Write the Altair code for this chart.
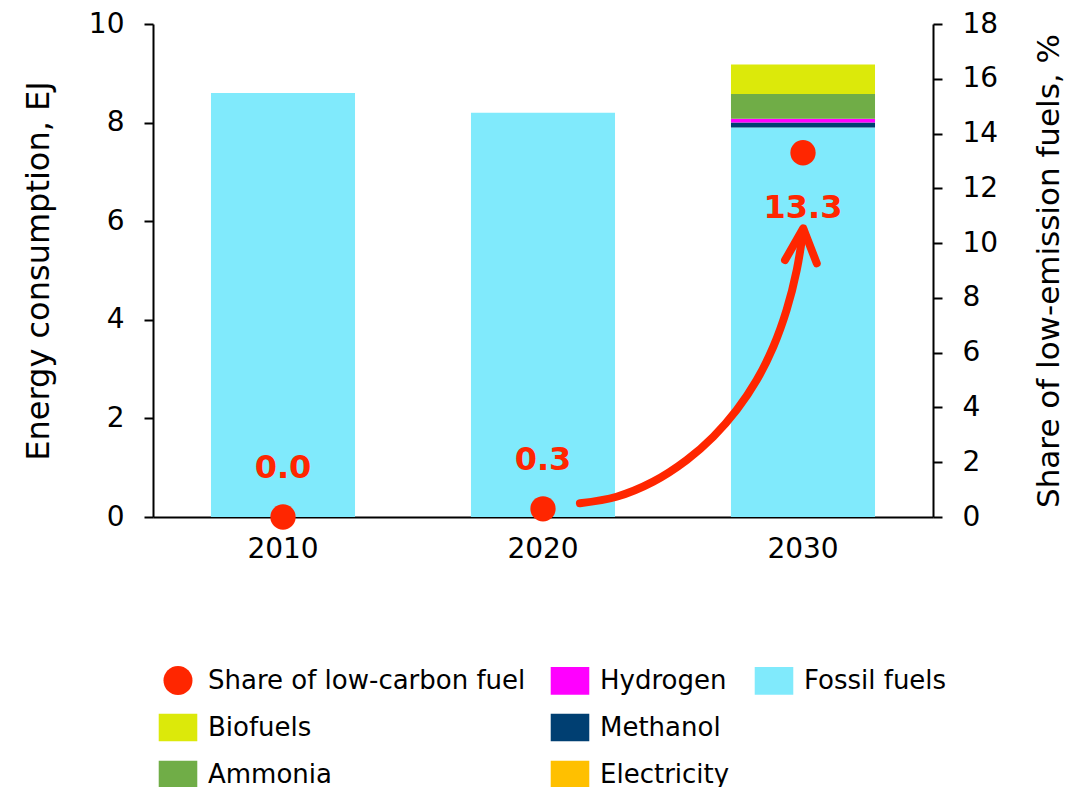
import altair as alt
import pandas as pd

# ---- data ----
years = ["2010", "2020", "2030"]
fossil = [8.6, 8.2, 7.9]
electricity = [0.0, 0.0, 0.0]
methanol = [0.0, 0.0, 0.1]
hydrogen = [0.0, 0.0, 0.08]
ammonia = [0.0, 0.0, 0.5]
biofuels = [0.0, 0.0, 0.6]
share = [0.0, 0.3, 13.3]

# annotation arrow
# (x in category-band units, 2010 centre = 0.5; y in % of the right axis)
arrow_x = [1.642, 1.783, 1.924, 2.053, 2.155, 2.245, 2.322, 2.386, 2.437, 2.476, 2.501]
arrow_y = [0.50, 0.74, 1.29, 2.08, 2.93, 3.91, 5.00, 6.22, 7.56, 9.02, 10.48]
head_x = [2.431, 2.501, 2.553]
head_y = [9.38, 10.54, 9.26]

stack_order = ["Fossil fuels", "Electricity", "Methanol", "Hydrogen", "Ammonia", "Biofuels"]
stack_vals = [fossil, electricity, methanol, hydrogen, ammonia, biofuels]

SHARE = "Share of low-carbon fuel"
legend_domain = [SHARE, "Biofuels", "Ammonia", "Hydrogen", "Methanol", "Electricity",
                 "Fossil fuels", " "]
legend_colors = ["#ff2600", "#dce90a", "#70ad47", "#ff00ff", "#003f72", "#ffc000",
                 "#80eafc", "rgba(0,0,0,0)"]
RECT = "M-1.33,-0.95H1.33V0.95H-1.33Z"
legend_shapes = ["circle", RECT, RECT, RECT, RECT, RECT, RECT, RECT]

FONT = "DejaVu Sans"

bars_df = pd.DataFrame(
    [{"Year": y, "Series": f, "Value": vals[i], "rank": k}
     for k, (f, vals) in enumerate(zip(stack_order, stack_vals))
     for i, y in enumerate(years)]
)
share_df = pd.DataFrame({"Year": years, "Share": share, "Series": [SHARE] * 3})
arrow_df = pd.DataFrame({"ax": arrow_x, "ay": arrow_y})
head_df = pd.DataFrame({"ax": head_x, "ay": head_y})

color_scale = alt.Scale(domain=legend_domain, range=legend_colors)
shape_scale = alt.Scale(domain=legend_domain, range=legend_shapes)
xband = alt.Scale(domain=years, paddingInner=0, paddingOuter=0)
yshare = alt.Scale(domain=[0, 18], nice=False)

legend = alt.Legend(
    title=None, orient="none", legendX=10.5, legendY=642, columns=3,
    symbolSize=841, symbolOpacity=1, labelFontSize=26, labelColor="black",
    labelFont=FONT, rowPadding=18, columnPadding=25, labelOffset=15.5,
    labelLimit=400, symbolStrokeWidth=0)

bars = alt.Chart(bars_df).mark_bar(width={"band": 0.554}).encode(
    x=alt.X("Year:N", scale=xband,
            axis=alt.Axis(title=None, labelAngle=0, ticks=False, domainColor="black",
                          domainWidth=2, labelFontSize=28, labelPadding=18,
                          labelColor="black", grid=False)),
    y=alt.Y("Value:Q", stack="zero",
            scale=alt.Scale(domain=[0, 10], nice=False),
            axis=alt.Axis(orient="left", title="Energy consumption, EJ", values=[0, 2, 4, 6, 8, 10],
                          grid=False, domainColor="black", domainWidth=2, tickColor="black",
                          tickWidth=2, tickSize=9, labelFontSize=28, labelPadding=20,
                          labelColor="black", titleFontSize=32, titleFontWeight="normal",
                          titleColor="black", titlePadding=33)),
    color=alt.Color("Series:N", scale=color_scale, legend=legend),
    order=alt.Order("rank:Q", sort="ascending"),
)

dots = alt.Chart(share_df).mark_point(size=640, opacity=1, filled=True).encode(
    x=alt.X("Year:N", scale=xband, axis=None),
    y=alt.Y("Share:Q", scale=yshare,
            axis=alt.Axis(orient="right", title="Share of low-emission fuels, %",
                          values=list(range(0, 19, 2)), grid=False, domainColor="black",
                          domainWidth=2, tickColor="black", tickWidth=2, tickSize=9,
                          labelFontSize=28, labelPadding=20, labelColor="black",
                          titleFontSize=31, titleFontWeight="normal", titleColor="black",
                          titleAngle=270, titleBaseline="top", titlePadding=37)),
    color=alt.Color("Series:N", scale=color_scale, legend=legend),
    shape=alt.Shape("Series:N", scale=shape_scale, legend=legend),
)

lab_above = alt.Chart(share_df).transform_filter(alt.datum.Year != "2030").mark_text(
    fontSize=32, fontWeight="bold", color="#ff2600", dy=-49, baseline="middle"
).encode(
    x=alt.X("Year:N", scale=xband, axis=None),
    y=alt.Y("Share:Q", scale=yshare, axis=None),
    text=alt.Text("Share:Q", format=".1f"),
)
lab_below = alt.Chart(share_df).transform_filter(alt.datum.Year == "2030").mark_text(
    fontSize=32, fontWeight="bold", color="#ff2600", dy=55, baseline="middle"
).encode(
    x=alt.X("Year:N", scale=xband, axis=None),
    y=alt.Y("Share:Q", scale=yshare, axis=None),
    text=alt.Text("Share:Q", format=".1f"),
)

ax_scale = alt.Scale(domain=[0, 3], nice=False, zero=False)
arrow = alt.Chart(arrow_df).mark_line(
    color="#ff2600", strokeWidth=8, strokeCap="round", interpolate="catmull-rom"
).encode(x=alt.X("ax:Q", scale=ax_scale, axis=None),
         y=alt.Y("ay:Q", scale=yshare, axis=None))
head = alt.Chart(head_df).mark_line(
    color="#ff2600", strokeWidth=8, strokeCap="round", strokeJoin="round"
).encode(x=alt.X("ax:Q", scale=ax_scale, axis=None),
         y=alt.Y("ay:Q", scale=yshare, axis=None))

chart = alt.layer(bars, arrow, head, dots, lab_above, lab_below).resolve_scale(
    x="independent", y="independent"
).properties(
    width=780, height=493, autosize="none",
    padding={"left": 145, "top": 16, "right": 148, "bottom": 270},
).configure(font=FONT).configure_view(stroke=None)

chart.save("out.html", embed_options={"renderer": "svg", "actions": False})
